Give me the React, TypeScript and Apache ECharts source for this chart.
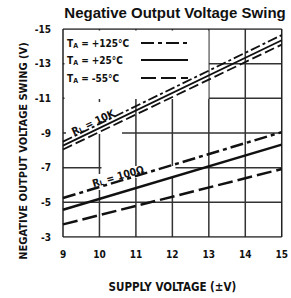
import React, { useEffect, useRef } from "react";
import * as echarts from "echarts";

const supplyVoltage = [9, 15];
const rl10k_125 = [-8.5, -14.65];
const rl10k_25 = [-8.27, -14.35];
const rl10k_m55 = [-8.05, -14.1];
const rl100_125 = [-5.25, -9.05];
const rl100_25 = [-4.57, -8.33];
const rl100_m55 = [-3.73, -6.92];
const gridY = [-13, -11, -9, -7, -5];
const gridX = [10, 11, 12, 13, 14];
const xRange = [9, 15];
const yRange = [-15, -3];
const legendRows = ["+125°C", "+25°C", "-55°C"];

const FONT = "'Liberation Sans Narrow', 'DejaVu Sans Condensed', 'Liberation Sans', Arial, sans-serif";
const INK = "#111";
const DASHDOT = [13, 4, 4, 4];
const DASH = [15, 5];

function line(name: string, ys: number[], type: any, width: number) {
  return {
    type: "line",
    name,
    data: supplyVoltage.map((x, i) => [x, ys[i]]),
    symbol: "none",
    silent: true,
    z: 4,
    lineStyle: { color: INK, width, type },
  };
}

function rule(points: number[][], z: number, color: string, width: number) {
  return {
    type: "line",
    data: points,
    symbol: "none",
    silent: true,
    z,
    lineStyle: { color, width, type: "solid" },
  };
}

export default function App() {
  const ref = useRef<HTMLDivElement>(null);
  useEffect(() => {
    const chart = echarts.init(ref.current!, null, { renderer: "svg" });
    const legendY = [43, 60, 78];
    const legendDash: any[] = [DASHDOT, "solid", DASH];
    const white = (x: number, y: number, w: number, h: number) => ({
      type: "rect",
      z: 2,
      shape: { x, y, width: w, height: h },
      style: { fill: "#fff" },
      silent: true,
    });
    const sub = { s: { fontFamily: FONT, fontWeight: "bold", fontSize: 7, fill: INK, padding: [5, 0, 0, 0] } };
    const graphic: any[] = [
      white(64.5, 30.5, 144, 68.5),
      white(66, 102, 56, 32),
      white(101.5, 166, 74, 12),
      white(96, 174, 8, 16),
      {
        type: "text",
        z: 5,
        x: 175,
        y: 12,
        style: { text: "Negative Output Voltage Swing", fontFamily: "'Liberation Sans', Arial, sans-serif", fontWeight: "bold", fontSize: 15, fill: INK, align: "center", verticalAlign: "middle" },
      },
      {
        type: "text",
        z: 5,
        x: 23,
        y: 151,
        rotation: Math.PI / 2,
        style: { text: "NEGATIVE OUTPUT VOLTAGE SWING (V)", fontFamily: FONT, fontWeight: "bold", fontSize: 11, fill: INK, align: "center", verticalAlign: "middle" },
      },
      {
        type: "text",
        z: 5,
        x: 93,
        y: 122,
        rotation: (25 * Math.PI) / 180,
        style: { text: "R{s|L} = 10K", fontFamily: FONT, fontWeight: "bold", fontSize: 10.5, fill: INK, align: "center", verticalAlign: "middle", rich: sub },
      },
      {
        type: "text",
        z: 5,
        x: 118,
        y: 176,
        rotation: (16 * Math.PI) / 180,
        style: { text: "R{s|L} = 100Ω", fontFamily: FONT, fontWeight: "bold", fontSize: 10.5, fill: INK, align: "center", verticalAlign: "middle", rich: sub },
      },
    ];
    legendRows.forEach((t, i) => {
      graphic.push({
        type: "text",
        z: 5,
        x: 67,
        y: legendY[i],
        style: { text: `T{s|A} = ${t}`, fontFamily: FONT, fontWeight: "bold", fontSize: 10, fill: INK, align: "left", verticalAlign: "middle", rich: sub },
      });
      graphic.push({
        type: "line",
        z: 5,
        shape: { x1: 141, y1: legendY[i], x2: 188, y2: legendY[i] },
        style: { stroke: INK, lineWidth: 2, lineDash: legendDash[i] === "solid" ? null : legendDash[i] },
      });
    });

    const gridSeries = [
      ...gridY.map((v) => rule(xRange.map((x) => [x, v]), 1, "#333333", 1.5)),
      ...gridX.map((v) => rule(yRange.map((y) => [v, y]), 1, "#333333", 1.5)),
      ...yRange.map((v) => rule(xRange.map((x) => [x, v]), 3, "#222222", 1.5)),
      ...xRange.map((v) => rule(yRange.map((y) => [v, y]), 3, "#222222", 1.5)),
    ];

    chart.setOption({
      animation: false,
      backgroundColor: "#fff",
      grid: { left: 63, top: 29, width: 224, height: 214 },
      xAxis: {
        type: "value",
        min: 9,
        max: 15,
        interval: 1,
        axisLine: { show: false },
        axisTick: { show: false },
        splitLine: { show: false },
        axisLabel: { margin: 12, color: INK, fontFamily: FONT, fontWeight: "bold", fontSize: 10 },
        name: "SUPPLY VOLTAGE (±V)",
        nameLocation: "middle",
        nameGap: 44,
        nameTextStyle: { color: INK, fontFamily: FONT, fontWeight: "bold", fontSize: 11.5 },
      },
      yAxis: {
        type: "value",
        inverse: true,
        min: -15,
        max: -3,
        interval: 1,
        axisLine: { show: false },
        axisTick: { show: false },
        splitLine: { show: false },
        axisLabel: {
          margin: 12,
          color: INK,
          fontFamily: FONT,
          fontWeight: "bold",
          fontSize: 10,
          formatter: (v: number) => (Math.abs(v) % 2 === 1 ? String(v) : ""),
        },
      },
      graphic,
      series: [
        ...gridSeries,
        line("RL=10K 125C", rl10k_125, [10, 3, 3, 3], 1.8),
        line("RL=10K 25C", rl10k_25, "solid", 1.8),
        line("RL=10K -55C", rl10k_m55, [10, 4], 1.8),
        line("RL=100 125C", rl100_125, DASHDOT, 2.5),
        line("RL=100 25C", rl100_25, "solid", 2.5),
        line("RL=100 -55C", rl100_m55, DASH, 2.5),
      ],
    });
    return () => chart.dispose();
  }, []);
  return <div ref={ref} style={{ position: "fixed", left: 0, top: 0, width: 291, height: 298 }} />;
}
